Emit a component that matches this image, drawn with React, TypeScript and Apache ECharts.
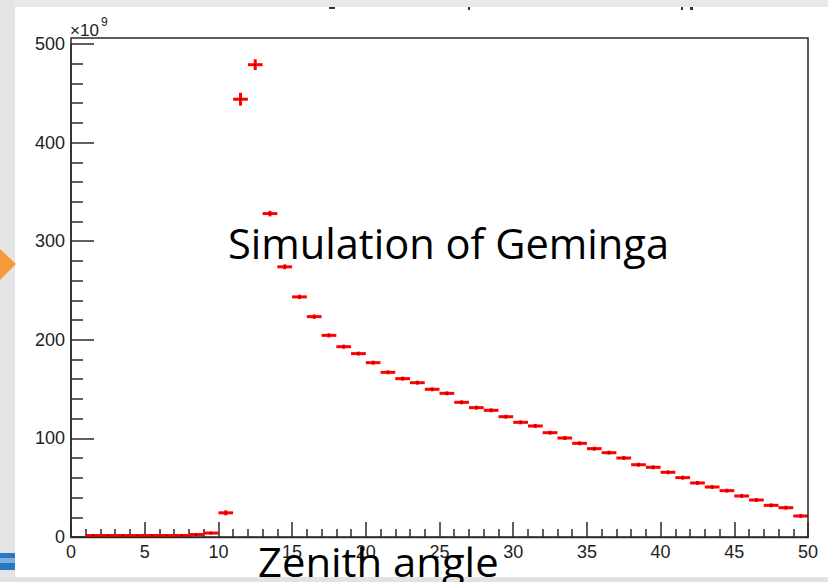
import React, { useEffect, useRef } from "react";
import * as echarts from "echarts";

// Bin lower edges (zenith angle, degrees); each bin is 1 degree wide
const binLow = [1, 2, 3, 4, 5, 6, 7, 8, 9, 10, 11, 12, 13, 14, 15, 16, 17, 18, 19, 20, 21, 22, 23, 24, 25, 26, 27, 28, 29, 30, 31, 32, 33, 34, 35, 36, 37, 38, 39, 40, 41, 42, 43, 44, 45, 46, 47, 48, 49];
const binHigh = [2, 3, 4, 5, 6, 7, 8, 9, 10, 11, 12, 13, 14, 15, 16, 17, 18, 19, 20, 21, 22, 23, 24, 25, 26, 27, 28, 29, 30, 31, 32, 33, 34, 35, 36, 37, 38, 39, 40, 41, 42, 43, 44, 45, 46, 47, 48, 49, 50];
// Counts in units of 1e9
const counts = [1.5, 1.5, 1.5, 1.5, 1.5, 1.5, 1.5, 2.5, 4, 24.5, 444, 479, 328, 274, 243.5, 223.5, 204.5, 193, 186, 176.8, 167, 160.6, 156.5, 149.8, 145.7, 136.6, 131.2, 128.5, 122, 116.3, 112.6, 105.8, 100.4, 95, 89.6, 85.5, 80.1, 73.3, 70.7, 65.6, 60.2, 54.8, 50.7, 47, 41.6, 37.5, 32.1, 29.7, 21.3];
const errors = [0.3, 0.3, 0.3, 0.3, 0.3, 0.3, 0.3, 0.4, 0.5, 1.5, 5.5, 4.5, 1.8, 1.5, 1.2, 1.2, 1.1, 1.1, 1, 1, 1, 1, 1, 1, 1, 1, 1, 1, 1, 1, 1, 1, 1, 1, 1, 1, 1, 1, 1, 1, 1, 1, 1, 1, 1, 1, 1, 1, 1];

const xTicks = { min: 0, max: 50, interval: 5 };
const yTicks = { min: 0, max: 500, interval: 100 };

export default function App() {
  const ref = useRef<HTMLDivElement>(null);
  useEffect(() => {
    if (!ref.current) return;
    const chart = echarts.init(ref.current, null, { renderer: "svg" });
    const data = binLow.map((lo, i) => [lo, binHigh[i], counts[i], errors[i]]);
    const axisColor = "#2a2a2a";
    const labelFont = { fontFamily: "Liberation Sans", fontSize: 18, color: "#222" };
    chart.setOption({
      animation: false,
      backgroundColor: "#ffffff",
      grid: { left: 71, right: 20, top: 44, bottom: 45, containLabel: false },
      xAxis: {
        type: "value",
        min: xTicks.min,
        max: xTicks.max,
        interval: xTicks.interval,
        axisLine: { show: true, onZero: false, lineStyle: { color: axisColor, width: 1.5 } },
        axisTick: { show: true, inside: true, length: 15, lineStyle: { color: axisColor, width: 1.5 } },
        minorTick: { show: true, splitNumber: 5, length: 8, lineStyle: { color: axisColor, width: 1.5 } },
        splitLine: { show: false },
        axisLabel: { ...labelFont, margin: 6 },
      },
      yAxis: {
        type: "value",
        min: yTicks.min,
        max: yTicks.max,
        interval: yTicks.interval,
        axisLine: { show: true, onZero: false, lineStyle: { color: axisColor, width: 1.5 } },
        axisTick: { show: true, inside: true, length: 23, lineStyle: { color: axisColor, width: 1.5 } },
        minorTick: { show: true, splitNumber: 5, length: 12, lineStyle: { color: axisColor, width: 1.5 } },
        splitLine: { show: false },
        axisLabel: { ...labelFont, margin: 6 },
      },
      series: [
        {
          type: "custom",
          data,
          clip: false,
          renderItem: (params: any, api: any) => {
            const lo = api.value(0);
            const hi = api.value(1);
            const v = api.value(2);
            const e = api.value(3);
            const mid = (lo + hi) / 2;
            const p0 = api.coord([lo, v]);
            const p1 = api.coord([hi, v]);
            const pt = api.coord([mid, v + e]);
            const pb = api.coord([mid, v - e]);
            const pc = api.coord([mid, v]);
            return {
              type: "group",
              children: [
                { type: "line", shape: { x1: p0[0], y1: p0[1], x2: p1[0], y2: p1[1] }, style: { stroke: "#ff0000", lineWidth: 3 } },
                { type: "line", shape: { x1: pt[0], y1: pt[1] - 1, x2: pb[0], y2: pb[1] + 1 }, style: { stroke: "#ff0000", lineWidth: 3 } },
                { type: "rect", shape: { x: pc[0] - 0.6, y: pc[1] - 0.6, width: 1.2, height: 1.2 }, style: { fill: "#000" } },
              ],
            };
          },
        },
      ],
      graphic: [
        // slide background strips
        { type: "rect", shape: { x: 0, y: 0, width: 828, height: 7 }, style: { fill: "#e8e8e8" }, z: 1 },
        { type: "rect", shape: { x: 0, y: 0, width: 15, height: 582 }, style: { fill: "#e4e4e4" }, z: 1 },
        { type: "rect", shape: { x: 0, y: 577, width: 828, height: 5 }, style: { fill: "#e6e1e1" }, z: 1 },
        { type: "rect", shape: { x: 0, y: 553, width: 15, height: 17 }, style: { fill: "#2a78c2" }, z: 2 },
        { type: "rect", shape: { x: 0, y: 558, width: 15, height: 5 }, style: { fill: "#7fb3de" }, z: 2 },
        { type: "polygon", shape: { points: [[0, 249], [16, 264], [0, 280]] }, style: { fill: "#f59a3a" }, z: 2 },
        // cut-off title fragments
        { type: "rect", shape: { x: 329, y: 7, width: 6, height: 2 }, style: { fill: "#333" }, z: 2 },
        { type: "rect", shape: { x: 468, y: 7, width: 2, height: 3 }, style: { fill: "#333" }, z: 2 },
        { type: "rect", shape: { x: 681, y: 7, width: 2, height: 3 }, style: { fill: "#333" }, z: 2 },
        { type: "rect", shape: { x: 690, y: 7, width: 3, height: 3 }, style: { fill: "#333" }, z: 2 },
        // frame
        { type: "rect", shape: { x: 71, y: 38, width: 737, height: 499.5 }, style: { fill: "none", stroke: axisColor, lineWidth: 1.5 }, z: 5 },
        // exponent
        { type: "text", x: 70, y: 30, style: { text: "×10", font: '17px "Liberation Sans"', fill: "#222", verticalAlign: "middle" }, z: 10 },
        { type: "text", x: 101, y: 22, style: { text: "9", font: '12px "Liberation Sans"', fill: "#222", verticalAlign: "middle" }, z: 10 },
        // overlay texts
        { type: "text", x: 228, y: 242, scaleX: 0.99, style: { text: "Simulation of Geminga", font: '42px "Open Sans"', fill: "#000", verticalAlign: "middle" }, z: 20 },
        { type: "text", x: 258, y: 561, scaleX: 1.02, style: { text: "Zenith angle", font: '41px "Open Sans"', fill: "#000", verticalAlign: "middle" }, z: 20 },
      ],
    });
    return () => chart.dispose();
  }, []);
  return <div ref={ref} style={{ position: "fixed", left: 0, top: 0, width: 828, height: 582 }} />;
}
